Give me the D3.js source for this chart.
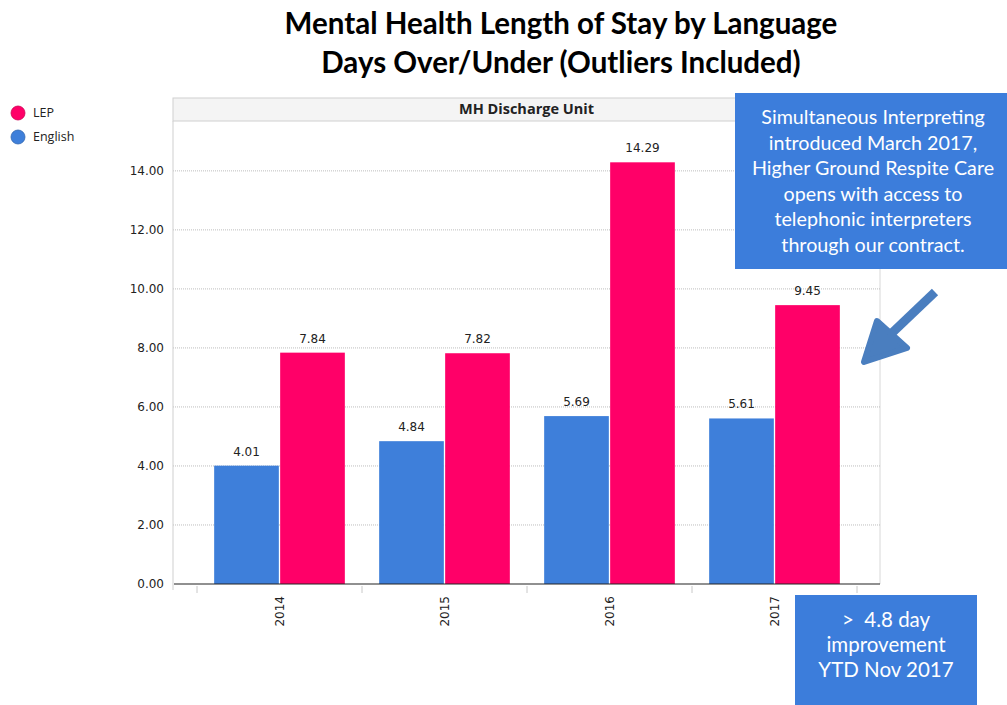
<!DOCTYPE html>
<html>
<head>
<meta charset="utf-8">
<script src="https://cdn.jsdelivr.net/npm/d3@7"></script>
<style>
  body { margin: 0; background: #fff; }
  svg { display: block; }
  text { white-space: pre; }
</style>
</head>
<body>
<div id="chart"></div>
<script>
const width = 1007
const height = 705

const years = ['2014', '2015', '2016', '2017']
const english = [4.01, 4.84, 5.69, 5.61]
const lep = [7.84, 7.82, 14.29, 9.45]
const seriesNames = ['English', 'LEP']
const legendNames = ['LEP', 'English']
const yTicks = [0, 2, 4, 6, 8, 10, 12, 14]
const titleLines = ['Mental Health Length of Stay by Language', 'Days Over/Under (Outliers Included)']
const noteLines = ['Simultaneous Interpreting', 'introduced March 2017,', 'Higher Ground Respite Care', 'opens with access to', 'telephonic interpreters', 'through our contract.']
const resultLines = ['>  4.8 day', 'improvement', 'YTD Nov 2017']

const colors = { LEP: '#ff0068', English: '#3e7fda' }
const boxBlue = '#3c7ddb'

const panel = { left: 173, right: 880, top: 98, strip: 23, bottom: 584 }

const svg = d3.select('#chart')
    .append('svg')
    .attr('width', width)
    .attr('height', height)

// title
svg.append('g')
    .selectAll('text')
    .data(titleLines)
    .enter()
    .append('text')
    .attr('x', 561)
    .attr('y', (d, i) => 34 + i * 39)
    .attr('text-anchor', 'middle')
    .attr('font-family', 'Lato, "Open Sans", sans-serif')
    .attr('font-weight', 'bold')
    .attr('font-size', 29.5)
    .attr('fill', '#000')
    .text(d => d)

// legend
const legend = svg.append('g')
    .selectAll('g')
    .data(legendNames)
    .enter()
    .append('g')
    .attr('transform', (d, i) => `translate(18, ${113 + i * 24})`)
legend.append('circle')
    .attr('r', 7)
    .attr('fill', d => colors[d])
    .attr('stroke', d => d3.color(colors[d]).darker(0.6))
    .attr('stroke-width', 0.8)
legend.append('text')
    .attr('x', 15)
    .attr('dy', '0.35em')
    .attr('font-family', '"Open Sans", sans-serif')
    .attr('font-size', 12.5)
    .attr('fill', '#222')
    .text(d => d)

// header strip
svg.append('rect')
    .attr('x', panel.left)
    .attr('y', panel.top)
    .attr('width', panel.right - panel.left)
    .attr('height', panel.strip)
    .attr('fill', '#f4f4f4')
    .attr('stroke', '#d0d0d0')
svg.append('text')
    .attr('x', (panel.left + panel.right) / 2)
    .attr('y', panel.top + 16)
    .attr('text-anchor', 'middle')
    .attr('font-family', '"Open Sans", sans-serif')
    .attr('font-weight', 'bold')
    .attr('font-size', 14.5)
    .attr('fill', '#222')
    .text('MH Discharge Unit')

const plotTop = panel.top + panel.strip

const y = d3.scaleLinear()
    .domain([0, 15.69])
    .range([panel.bottom, plotTop])

const x0 = d3.scaleBand()
    .domain(years)
    .range([197, 857])
    .paddingInner(0)
    .paddingOuter(0)

const x1 = d3.scaleBand()
    .domain(seriesNames)
    .range([0, x0.bandwidth()])
    .paddingOuter(0.26)
    .paddingInner(0.02)

// right border
svg.append('line')
    .attr('x1', panel.right).attr('x2', panel.right)
    .attr('y1', plotTop).attr('y2', panel.bottom)
    .attr('stroke', '#d8d8d8')

// gridlines
svg.append('g')
    .selectAll('line')
    .data(yTicks.filter(d => d > 0))
    .enter()
    .append('line')
    .attr('x1', panel.left)
    .attr('x2', panel.right)
    .attr('y1', d => y(d))
    .attr('y2', d => y(d))
    .attr('stroke', '#bdbdbd')
    .attr('stroke-dasharray', '1,1')

// y axis
const yAxis = svg.append('g')
    .attr('transform', `translate(${panel.left},0)`)
    .call(d3.axisLeft(y).tickValues(yTicks).tickFormat(d3.format('.2f')).tickSize(0).tickPadding(9))
yAxis.select('.domain')
    .attr('d', `M0,${plotTop}V${panel.bottom + 6}`)
    .attr('stroke', '#cfcfcf')
yAxis.selectAll('text')
    .attr('font-family', '"DejaVu Sans", sans-serif')
    .attr('font-size', 12)
    .attr('fill', '#222')

// bars
const rows = years.map((yr, i) => ({ year: yr, values: [
    { name: 'English', value: english[i] },
    { name: 'LEP', value: lep[i] }
]}))

const groups = svg.append('g')
    .selectAll('g')
    .data(rows)
    .enter()
    .append('g')
    .attr('transform', d => `translate(${x0(d.year)},0)`)

groups.selectAll('rect')
    .data(d => d.values)
    .enter()
    .append('rect')
    .attr('x', d => x1(d.name))
    .attr('y', d => y(d.value))
    .attr('width', x1.bandwidth())
    .attr('height', d => y(0) - y(d.value))
    .attr('fill', d => colors[d.name])

groups.selectAll('text')
    .data(d => d.values)
    .enter()
    .append('text')
    .attr('x', d => x1(d.name) + x1.bandwidth() / 2)
    .attr('y', d => y(d.value) - 10)
    .attr('text-anchor', 'middle')
    .attr('font-family', '"DejaVu Sans", sans-serif')
    .attr('font-size', 12)
    .attr('fill', '#222')
    .text(d => d.value.toFixed(2))

// x axis
const xAxis = svg.append('g')
    .attr('transform', `translate(0,${panel.bottom})`)
xAxis.append('line')
    .attr('x1', panel.left + 1)
    .attr('x2', panel.right)
    .attr('stroke', '#222')
    .attr('stroke-width', 1.2)
xAxis.selectAll('line.tick')
    .data(years.map(d => x0(d)).concat([x0.range()[1]]))
    .enter()
    .append('line')
    .attr('class', 'tick')
    .attr('x1', d => d).attr('x2', d => d)
    .attr('y1', 2).attr('y2', 9)
    .attr('stroke', '#c8c8c8')
xAxis.selectAll('text')
    .data(years)
    .enter()
    .append('text')
    .attr('transform', d => `translate(${x0(d) + x0.bandwidth() / 2 + 4},${12}) rotate(-90)`)
    .attr('text-anchor', 'end')
    .attr('font-family', '"DejaVu Sans", sans-serif')
    .attr('font-size', 12)
    .attr('fill', '#222')
    .text(d => d)

// note box
svg.append('rect')
    .attr('x', 735).attr('y', 93)
    .attr('width', 272).attr('height', 176)
    .attr('fill', boxBlue)
svg.append('g')
    .selectAll('text')
    .data(noteLines)
    .enter()
    .append('text')
    .attr('x', 873)
    .attr('y', (d, i) => 124 + i * 25.6)
    .attr('text-anchor', 'middle')
    .attr('font-family', 'Lato, "Open Sans", sans-serif')
    .attr('font-size', 19.7)
    .attr('fill', '#fff')
    .text(d => d)

// arrow
const arrow = d3.path()
arrow.moveTo(935, 292)
arrow.lineTo(872, 352)
svg.append('path')
    .attr('d', arrow.toString())
    .attr('stroke', '#4a7ebf')
    .attr('stroke-width', 9)
svg.append('path')
    .attr('d', 'M864,362 L877,321 L907,348 Z')
    .attr('fill', '#4a7ebf')
    .attr('stroke', '#4a7ebf')
    .attr('stroke-width', 6)
    .attr('stroke-linejoin', 'round')

// result box
svg.append('rect')
    .attr('x', 795).attr('y', 595)
    .attr('width', 182).attr('height', 110)
    .attr('fill', boxBlue)
svg.append('g')
    .selectAll('text')
    .data(resultLines)
    .enter()
    .append('text')
    .attr('x', 886)
    .attr('y', (d, i) => 627 + i * 25)
    .attr('text-anchor', 'middle')
    .attr('font-family', 'Lato, "Open Sans", sans-serif')
    .attr('font-size', 20.5)
    .attr('fill', '#fff')
    .text(d => d)
</script>
</body>
</html>
